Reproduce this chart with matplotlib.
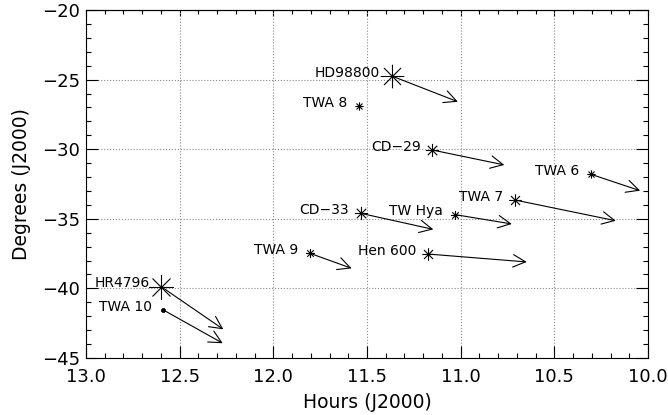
import numpy as np
import matplotlib
matplotlib.use("Agg")
import matplotlib.pyplot as plt
from matplotlib.path import Path
from matplotlib.ticker import MultipleLocator, FormatStrFormatter

# TW Hya association members: position now and where the proper motion carries them
names = ["HD98800", "TWA 8", "CD\u221229", "TWA 6", "TWA 7", "CD\u221233",
         "TW Hya", "Hen 600", "TWA 9", "HR4796", "TWA 10"]
ra_h = [11.368, 11.541, 11.151, 10.305, 10.710, 11.532,
        11.030, 11.176, 11.804, 12.598, 12.587]
dec_d = [-24.74, -26.90, -30.06, -31.80, -33.65, -34.61,
         -34.70, -37.53, -37.48, -39.88, -41.55]
# arrow heads (None = no motion vector drawn)
ra_to = [11.015, None, 10.767, 10.042, 10.172, 11.146,
         10.727, 10.647, 11.582, 12.267, 12.270]
dec_to = [-26.59, None, -31.13, -32.98, -35.14, -35.76,
          -35.37, -38.10, -38.56, -42.94, -43.94]

# symbol size class per star (points)
sym_size = [17, 6, 9.5, 6, 9, 9.5, 6.5, 9, 6.5, 18, 3]

# IDL-style asterisk: +, x overlaid
d = 0.72
ASTER = Path([(0, -1), (0, 1), (-1, 0), (1, 0),
              (-d, -d), (d, d), (-d, d), (d, -d)],
             [Path.MOVETO, Path.LINETO] * 4)

fig = plt.figure(figsize=(6.68, 4.15), dpi=100)
ax = fig.add_axes([86 / 668, 57 / 415, 562 / 668, 348 / 415])

for name, x, y, x1, y1, ms in zip(names, ra_h, dec_d, ra_to, dec_to, sym_size):
    if x1 is not None:
        ax.annotate("", xy=(x1, y1), xytext=(x, y),
                    arrowprops=dict(arrowstyle="->,head_length=0.9,head_width=0.45",
                                    lw=0.8, color="k", shrinkA=0, shrinkB=0,
                                    mutation_scale=10))
    ax.plot([x], [y], marker=ASTER, ms=ms, mec="k", mew=0.8 if ms > 4 else 1.6,
            ls="none", zorder=4)
    ax.annotate(name, (x, y), xytext=(-8.5, -0.5), textcoords="offset points",
                ha="right", va="baseline", fontsize=10)

ax.set_xlim(13.0, 10.0)
ax.set_ylim(-45, -20)
ax.xaxis.set_major_locator(MultipleLocator(0.5))
ax.xaxis.set_minor_locator(MultipleLocator(0.1))
ax.xaxis.set_major_formatter(FormatStrFormatter("%.1f"))
ax.yaxis.set_major_locator(MultipleLocator(5))
ax.yaxis.set_minor_locator(MultipleLocator(1))

ax.grid(True, which="major", ls=":", color="#8a8a8a", lw=0.8)
ax.tick_params(which="both", direction="in", right=True, top=False,
               width=0.8, labelsize=13)
ax.tick_params(which="major", length=8.5)
ax.tick_params(which="minor", length=3.5)
ax.tick_params(axis="x", pad=7)
ax.tick_params(axis="y", pad=4)

top = ax.secondary_xaxis("top")
top.xaxis.set_major_locator(MultipleLocator(0.5))
top.xaxis.set_minor_locator(MultipleLocator(0.1))
top.tick_params(which="both", direction="in", labeltop=False, width=0.8)
top.tick_params(which="major", length=4.5)
top.tick_params(which="minor", length=3)

for sp in list(ax.spines.values()) + [top.spines["top"]]:
    sp.set_linewidth(0.8)

ax.set_xlabel("Hours (J2000)", fontsize=13.5, labelpad=5)
ax.set_ylabel("Degrees (J2000)", fontsize=13.5, labelpad=8)

fig.savefig("out.png", dpi=100)
